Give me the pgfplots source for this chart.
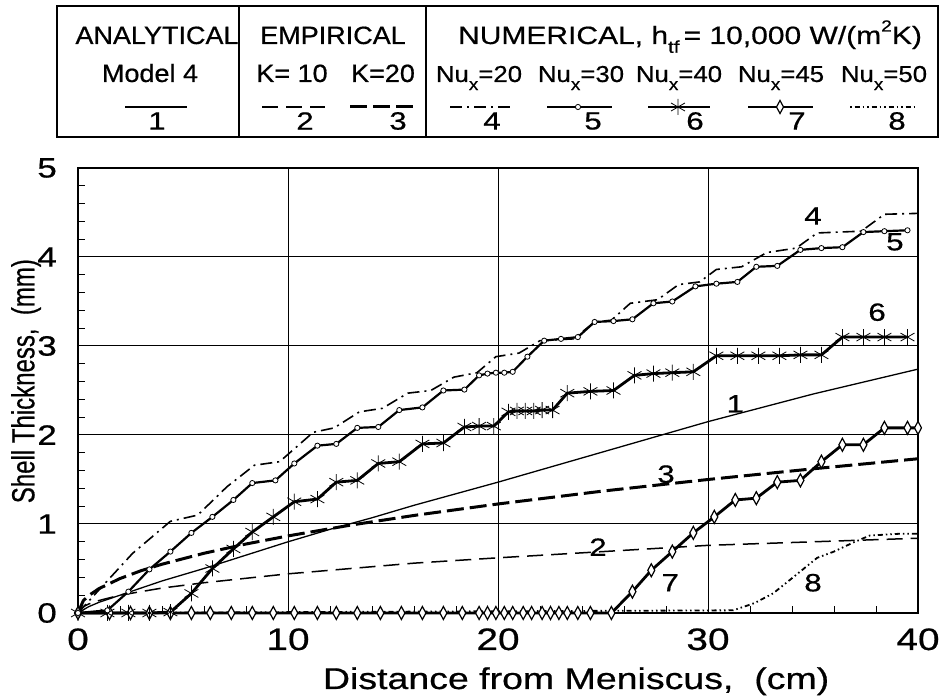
\documentclass[border=0pt]{standalone}
\usepackage{fontspec}
\setmainfont{Liberation Sans}[FakeBold=0.6]
\newfontfamily\axf{Liberation Sans}[FakeStretch=1.25, FakeBold=0.6]
\newfontfamily\lf{Liberation Sans}[FakeStretch=1.08, FakeBold=0.6]
\newfontfamily\lfw{Liberation Sans}[FakeStretch=1.2, FakeBold=0.6]
\newfontfamily\lfn{Liberation Sans}[FakeStretch=1.12, FakeBold=0.6]
\usepackage{pgfplots}
\pgfplotsset{compat=1.18}
\newcommand\sbx[1]{\raisebox{-0.35em}{\fontsize{17}{17}\selectfont #1}}
\newcommand\spx[1]{\raisebox{0.5em}{\fontsize{16}{16}\selectfont #1}}
\pgfplotsset{
 c1/.style={black, line width=1.3pt, no markers, solid},
 c2/.style={black, line width=1.5pt, no markers, dash pattern=on 16pt off 8pt},
 c3/.style={black, line width=3pt, no markers, dash pattern=on 17pt off 6pt},
 c4/.style={black, line width=1.6pt, no markers, dash pattern=on 12pt off 5pt on 2pt off 5pt},
 c5/.style={black, line width=2.2pt, mark=*, mark size=2.6pt, mark options={fill=white, line width=0.8pt, solid}},
 c6/.style={black, line width=2.8pt, mark=asterisk, mark size=8pt, mark options={line width=0.8pt, solid}},
 c7/.style={black, line width=2.8pt, mark=diamond*, mark size=6.5pt, mark options={fill=white, line width=1.2pt, xscale=0.72, solid}},
 c8/.style={black, line width=1.8pt, no markers, dash pattern=on 1.5pt off 3pt on 5pt off 3pt on 1.5pt off 3pt},
}
\begin{document}
\begin{tikzpicture}
\path[use as bounding box] (0,0) rectangle (948pt,700pt);
\begin{axis}[
 at={(78pt,87pt)}, anchor=south west, scale only axis,
 width=840pt, height=445pt,
 xmin=0, xmax=40, ymin=0, ymax=5,
 xtick={0,10,20,30,40}, ytick={0,1,2,3,4,5},
 minor x tick num=4, minor y tick num=4,
 tick align=inside, xtick pos=left, ytick pos=left,
 grid=major, major grid style={black, line width=1pt},
 axis line style={line width=1.8pt},
 major tick length=7pt, minor tick length=7pt,
 every tick/.style={black, line width=1pt},
 clip=false,
 /pgf/number format/assume math mode=true,
 xticklabel style={font=\axf\fontsize{31}{31}\selectfont, anchor=base, yshift=-37pt},
 yticklabel style={font=\axf\fontsize{28}{28}\selectfont, anchor=east, inner sep=0pt, xshift=-21pt},
 xlabel={Distance from Meniscus,\ \ (cm)},
 ylabel={\scalebox{0.75}[1]{\fontsize{32}{32}\selectfont Shell Thickness,\ \ (mm)}},
 xlabel style={at={(axis description cs:0.593,0)}, anchor=base, yshift=-76pt, font=\axf\fontsize{30}{30}\selectfont},
 ylabel style={at={(axis description cs:-0.052,0.521)}, anchor=base},
]
% 1 analytical
\addplot[c1] coordinates {(0,0)(0.5,0.07)(1,0.12)(2,0.2)(3,0.28)(4,0.36)(5,0.43)(6,0.5)(8,0.65)(10,0.8)(12,0.94)(14,1.07)(16,1.21)(18,1.34)(20,1.47)(25,1.81)(30,2.15)(35,2.46)(40,2.74)};
% 2 K=10
\addplot[c2] coordinates {(0,0)(0.25,0.07)(0.5,0.1)(1,0.14)(2,0.2)(4,0.28)(6,0.34)(8,0.39)(10,0.44)(13,0.5)(16,0.56)(20,0.62)(25,0.69)(30,0.76)(35,0.8)(40,0.84)};
% 3 K=20
\addplot[c3] coordinates {(0,0)(0.25,0.137)(0.5,0.194)(1,0.274)(2,0.387)(3,0.475)(4,0.548)(6,0.671)(8,0.775)(10,0.866)(13,0.988)(16,1.096)(20,1.225)(25,1.37)(30,1.5)(35,1.62)(40,1.733)};
% 8 Nu=50
\addplot[c8] coordinates {(0,0)(31.2,0.03)(32.2,0.11)(33.1,0.22)(34.1,0.41)(35.2,0.62)(36,0.69)(36.9,0.79)(37.7,0.87)(39.1,0.89)(40,0.89)};
% 7 Nu=45
\addplot[c7] coordinates {(0,0)(1.5,0)(2.5,0)(3.4,0)(4.4,0)(5.4,0)(6.3,0)(7.3,0)(8.3,0)(9.3,0)(10.3,0)(11.4,0)(12.3,0)(13.3,0)(14.4,0)(15.4,0)(16.4,0)(17.4,0)(18.3,0)(19.1,0)(19.5,0)(19.9,0)(20.3,0)(20.7,0)(21.2,0)(21.6,0)(22.1,0)(22.5,0)(22.9,0)(23.3,0)(23.8,0)(24.4,0)(25.4,0)(26.4,0.24)(27.3,0.48)(28.3,0.69)(29.3,0.9)(30.3,1.08)(31.3,1.27)(32.3,1.29)(33.3,1.47)(34.4,1.49)(35.4,1.7)(36.4,1.89)(37.4,1.89)(38.4,2.08)(39.5,2.08)(40,2.08)};
% 6 Nu=40
\addplot[c6] coordinates {(0,0)(1.4,0)(2.4,0)(3.4,0)(4.4,0.01)(5.4,0.22)(6.4,0.5)(7.4,0.72)(8.3,0.91)(9.3,1.08)(10.3,1.25)(11.4,1.28)(12.3,1.47)(13.3,1.49)(14.3,1.68)(15.3,1.7)(16.4,1.9)(17.4,1.91)(18.4,2.09)(19.1,2.1)(19.8,2.1)(20.5,2.26)(20.9,2.27)(21.3,2.27)(21.7,2.27)(22.1,2.28)(22.6,2.28)(23.3,2.47)(24.4,2.49)(25.5,2.5)(26.5,2.67)(27.4,2.69)(28.3,2.7)(29.3,2.71)(30.4,2.89)(31.4,2.89)(32.4,2.89)(33.4,2.89)(34.4,2.9)(35.4,2.9)(36.4,3.1)(37.4,3.1)(38.4,3.1)(39.5,3.1)};
% 5 Nu=30
\addplot[c5] coordinates {(0,0)(1.4,0.03)(2.4,0.24)(3.4,0.49)(4.4,0.69)(5.4,0.9)(6.4,1.08)(7.4,1.27)(8.3,1.46)(9.4,1.49)(10.3,1.68)(11.4,1.88)(12.3,1.9)(13.3,2.08)(14.3,2.09)(15.3,2.28)(16.4,2.31)(17.4,2.5)(18.4,2.51)(19.1,2.67)(19.5,2.69)(19.9,2.7)(20.3,2.7)(20.7,2.71)(21.4,2.88)(22.2,3.06)(23.0,3.08)(23.8,3.1)(24.6,3.27)(25.5,3.28)(26.4,3.3)(27.4,3.48)(28.3,3.5)(29.4,3.67)(30.4,3.7)(31.4,3.72)(32.3,3.89)(33.3,3.9)(34.4,4.08)(35.4,4.1)(36.4,4.11)(37.4,4.28)(38.4,4.29)(39.5,4.3)};
% 4 Nu=20
\addplot[c4] coordinates {(0,0)(1,0.26)(2.6,0.67)(4.4,1.03)(5.7,1.1)(7.1,1.42)(8.4,1.66)(9.6,1.7)(11.2,2.03)(12.2,2.08)(13.4,2.26)(14.5,2.3)(15.7,2.47)(16.8,2.5)(17.9,2.65)(19,2.7)(19.9,2.88)(21,2.92)(22,3.06)(23.6,3.08)(24.6,3.27)(25.4,3.29)(26.3,3.48)(27.6,3.52)(28.6,3.69)(29.6,3.72)(30.4,3.86)(31.6,3.89)(32.8,4.05)(34.2,4.1)(35.2,4.27)(37.3,4.29)(38.4,4.48)(40,4.49)};
% curve labels
\begin{scope}[every node/.style={font=\axf\fontsize{25}{25}\selectfont, inner sep=0pt}]
\node at (axis cs:31.3,2.35) {1};
\node at (axis cs:24.76,0.74) {2};
\node at (axis cs:28.0,1.56) {3};
\node at (axis cs:35.0,4.46) {4};
\node at (axis cs:38.9,4.17) {5};
\node at (axis cs:38.05,3.38) {6};
\node at (axis cs:28.2,0.34) {7};
\node at (axis cs:35.0,0.34) {8};
\end{scope}
\end{axis}
% legend table drawn in a pixel-coordinate overlay axis
\begin{axis}[
 at={(0pt,0pt)}, anchor=south west, scale only axis,
 width=948pt, height=700pt,
 xmin=0, xmax=948, ymin=0, ymax=700, y dir=reverse,
 hide axis, clip=false,
]
\draw[line width=2pt] (axis cs:57,6) rectangle (axis cs:938,137);
\draw[line width=1.5pt] (axis cs:239,6) -- (axis cs:239,137);
\draw[line width=1.5pt] (axis cs:426,6) -- (axis cs:426,137);
\begin{scope}[every node/.style={font=\lf\fontsize{25}{25}\selectfont, inner sep=0pt, anchor=base}]
\node at (axis cs:157,44) {ANALYTICAL};
\node at (axis cs:333,44) {EMPIRICAL};
\node[font=\lfw\fontsize{25}{25}\selectfont] at (axis cs:690,44) {NUMERICAL, h\sbx{tf}\,= 10,000 W/(m\spx{2}K)};
\node at (axis cs:150,82) {Model 4};
\node at (axis cs:292,82) {K= 10};
\node at (axis cs:383,82) {K=20};
\end{scope}
\begin{scope}[every node/.style={font=\lfn\fontsize{23}{23}\selectfont, inner sep=0pt, anchor=base}]
\node at (axis cs:479,82) {Nu\sbx{x}=20};
\node at (axis cs:581,82) {Nu\sbx{x}=30};
\node at (axis cs:679,82) {Nu\sbx{x}=40};
\node at (axis cs:781,82) {Nu\sbx{x}=45};
\node at (axis cs:884,82) {Nu\sbx{x}=50};
\end{scope}
\addplot[c1] coordinates {(125,107)(187,107)};
\addplot[c2] coordinates {(262,107)(325,107)};
\addplot[c3] coordinates {(350,107)(415,107)};
\addplot[c4] coordinates {(450,107)(510,107)};
\addplot[c5, mark indices={2}] coordinates {(547,107)(578,107)(612,107)};
\addplot[c6, mark indices={2}] coordinates {(648,107)(678,107)(710,107)};
\addplot[c7, mark indices={2}] coordinates {(748,107)(780,107)(813,107)};
\addplot[c8] coordinates {(850,107)(917,107)};
\begin{scope}[every node/.style={font=\axf\fontsize{25}{25}\selectfont, inner sep=0pt}]
\node at (axis cs:157,121) {1};
\node at (axis cs:305,121) {2};
\node at (axis cs:398,121) {3};
\node at (axis cs:492,121) {4};
\node at (axis cs:593,121) {5};
\node at (axis cs:695,121) {6};
\node at (axis cs:797,121) {7};
\node at (axis cs:897,121) {8};
\end{scope}
\end{axis}
\end{tikzpicture}
\end{document}
